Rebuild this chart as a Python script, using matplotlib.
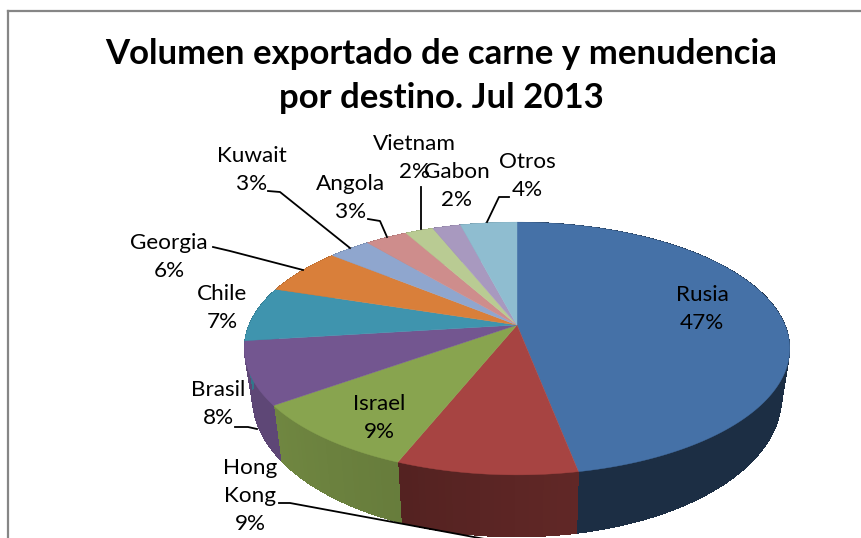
#! /usr/bin/env python

import numpy as np
import matplotlib
matplotlib.use('Agg')
import matplotlib.pyplot as plt
from matplotlib.patches import Polygon

destinos = ['Rusia', 'Hong\nKong', 'Israel', 'Brasil', 'Chile', 'Georgia', 'Kuwait', 'Angola', 'Vietnam', 'Gabon', 'Otros']
porcentajes = [47, 9, 9, 8, 7, 6, 3, 3, 2, 2, 4]
titulo = 'Volumen exportado de carne y menudencia\npor destino. Jul 2013'

colores = ['#4571A7', '#A74442', '#88A44F', '#735690', '#3F94AE', '#D97F3A', '#8FA6CE', '#CE8D8C', '#B9CB93', '#A899BF', '#8FBDD0']

# wall shade at start and end of each slice
sombra_ini = [0.41, 0.58, 0.76, 0.82, 0.80, 0.8, 0.8, 0.8, 0.8, 0.8, 0.8]
sombra_fin = [0.41, 0.50, 0.82, 0.82, 0.80, 0.8, 0.8, 0.8, 0.8, 0.8, 0.8]

# text centres, pixels
etiquetas = {
'Rusia'     :(702, 309),
'Hong\nKong':(250, 496),
'Israel'    :(379, 418),
'Brasil'    :(218, 404),
'Chile'     :(222, 308),
'Georgia'   :(169, 257),
'Kuwait'    :(252, 170),
'Angola'    :(351, 198),
'Vietnam'   :(414, 158),
'Gabon'     :(457, 186),
'Otros'     :(527, 176),
}

guias = [
[(213, 247), (230, 251), (303, 270)],
[(268, 191), (280, 192), (350, 248)],
[(368, 219), (380, 221), (387, 237)],
[(421, 187), (421, 229)],
[(509, 197), (499, 197), (487, 222)],
[(235, 427), (248, 427), (257, 429)],
[(279, 503), (290, 503), (490, 540)],
]

# perspective of the pie disc
cx, cy = 517., 325.
A, B, k = 268., 122., 0.186

def disco(theta):
    u, v = np.sin(theta), -np.cos(theta)
    d = 1 - k*v
    return cx + A*u/d, cy + B*v/d

def base(x, y):
    return cx + 0.97*(x - cx), y + 47 + 0.1*(y - cy)

def oscuro(color, f):
    return tuple(c*f for c in matplotlib.colors.to_rgb(color))

def plot():
    plt.rcParams['font.family'] = ['Lato', 'Open Sans', 'DejaVu Sans']
    fig = plt.figure(figsize=(8.61, 5.38), dpi=100)
    ax = fig.add_axes([0, 0, 1, 1])
    ax.set_xlim(0, 861)
    ax.set_ylim(538, 0)
    ax.axis('off')

    bordes = np.concatenate(([0], np.cumsum(porcentajes))) / float(sum(porcentajes)) * 2*np.pi

    for i, color in enumerate(colores):
        t = np.linspace(bordes[i], bordes[i+1], max(int(porcentajes[i]*3), 4))
        x, y = disco(t)
        # side wall, strip by strip so the shade can change
        xb, yb = base(x, y)
        fondo = list(zip(x, y)) + list(zip(xb[::-1], yb[::-1]))
        f0 = 0.5*(sombra_ini[i] + sombra_fin[i])
        ax.add_patch(Polygon(fondo, closed=True, fc=oscuro(color, f0), ec='none', zorder=1))
        fs = np.linspace(sombra_ini[i], sombra_fin[i], len(t)-1)
        for j in range(len(t)-1):
            quad = [(x[j], y[j]), (x[j+1], y[j+1]), (xb[j+1], yb[j+1]), (xb[j], yb[j])]
            ax.add_patch(Polygon(quad, closed=True, fc=oscuro(color, fs[j]), ec='none', antialiased=False, zorder=1))
        # top of the slice
        pts = [(cx, cy)] + list(zip(x, y))
        ax.add_patch(Polygon(pts, closed=True, fc=color, ec=color, lw=0.3, zorder=2))

    for g in guias:
        ax.plot([p[0] for p in g], [p[1] for p in g], color='black', lw=1.3, zorder=3)

    for nombre, pct in zip(destinos, porcentajes):
        xt, yt = etiquetas[nombre]
        ax.text(xt, yt, '%s\n%d%%' % (nombre, pct), ha='center', va='center', fontsize=16.2, linespacing=1.5, color='black', zorder=4)

    ax.text(441, 76, titulo, ha='center', va='center', fontsize=25, fontweight='bold', linespacing=1.49, color='black', zorder=4)

    # chart frame, cut by the screenshot
    ax.plot([8, 8], [538, 11], color='#868686', lw=1.6, solid_capstyle='projecting')
    ax.plot([8, 861], [11, 11], color='#868686', lw=1.6, solid_capstyle='projecting')

    plt.savefig('out.png', dpi=100)

if __name__ == '__main__':
    plot()
